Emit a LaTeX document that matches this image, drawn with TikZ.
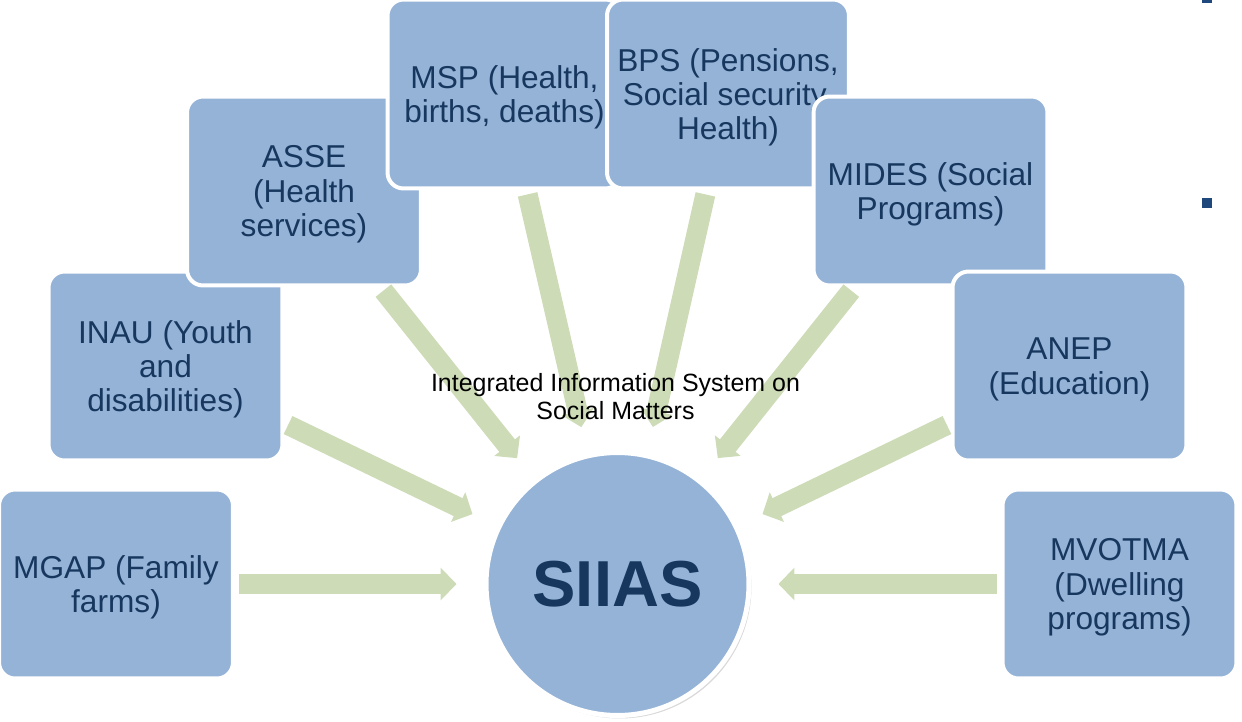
\documentclass[tikz,border=0pt]{standalone}
\usepackage{fontspec}
\setmainfont{Liberation Sans}
\usetikzlibrary{arrows.meta,shadows}

\definecolor{boxblue}{RGB}{149,179,215}
\definecolor{inkblue}{RGB}{23,55,94}
\definecolor{feedgreen}{RGB}{205,220,183}
\definecolor{bulletblue}{RGB}{31,73,125}

\tikzset{
	agency/.style={rectangle, rounded corners=0.32cm, fill=boxblue, draw=white, line width=0.08cm,
		minimum width=4.68cm, minimum height=3.78cm, inner sep=0pt, align=center, text depth=0pt,
		text=inkblue, font=\fontsize{18}{19.5}\selectfont},
	hub/.style={circle, fill=boxblue, draw=white, line width=0.1cm, minimum size=5.26cm, inner sep=0pt,
		text=inkblue, font=\fontsize{37}{40}\selectfont\bfseries,
		drop shadow={shadow xshift=0.05cm, shadow yshift=-0.06cm, opacity=0.3}},
	feed/.style={draw=feedgreen, line width=0.4cm, -{Triangle[length=0.32cm,width=0.64cm]},
		shorten <=0.08cm, shorten >=0.54cm},
}

\begin{document}
\begin{tikzpicture}[x=0.02cm,y=-0.02cm]
			\useasboundingbox (0,0) rectangle (1242,721);

			\node[agency] (MGAP) at (116,584) {MGAP (Family\\farms)};
			\node[agency] (INAU) at (165.5,366) {INAU (Youth\\and\\disabilities)};
			\node[agency] (ASSE) at (304,191) {ASSE\\(Health\\services)};
			\node[agency] (MSP) at (504.5,94) {MSP (Health,\\births, deaths)};
			\node[agency, minimum width=4.84cm] (BPS) at (728,94) {BPS (Pensions,\\Social security,\\Health)};
			\node[agency] (MIDES) at (930.5,191) {MIDES (Social\\Programs)};
			\node[agency] (ANEP) at (1069.5,366) {ANEP\\(Education)};
			\node[agency] (MVOTMA) at (1119.5,584) {MVOTMA\\(Dwelling\\programs)};

			\node[hub] (HUB) at (617.5,584) {SIIAS};

			\draw[feed] (MGAP) -- (HUB);
			\draw[feed] (INAU) -- (HUB);
			\draw[feed] (ASSE) -- (HUB);
			\draw[feed] (MSP) -- (HUB);
			\draw[feed] (BPS) -- (HUB);
			\draw[feed] (MIDES) -- (HUB);
			\draw[feed] (ANEP) -- (HUB);
			\draw[feed] (MVOTMA) -- (HUB);

			\node[align=center, font=\fontsize{14.2}{15.9}\selectfont] (LABEL) at (615.5,397) {Integrated Information System on\\Social Matters};

			% slide bullets cut by the frame
			\fill[bulletblue] (1202,-7) rectangle (1212,3);
			\fill[bulletblue] (1202,198) rectangle (1212,208);
\end{tikzpicture}
\end{document}
